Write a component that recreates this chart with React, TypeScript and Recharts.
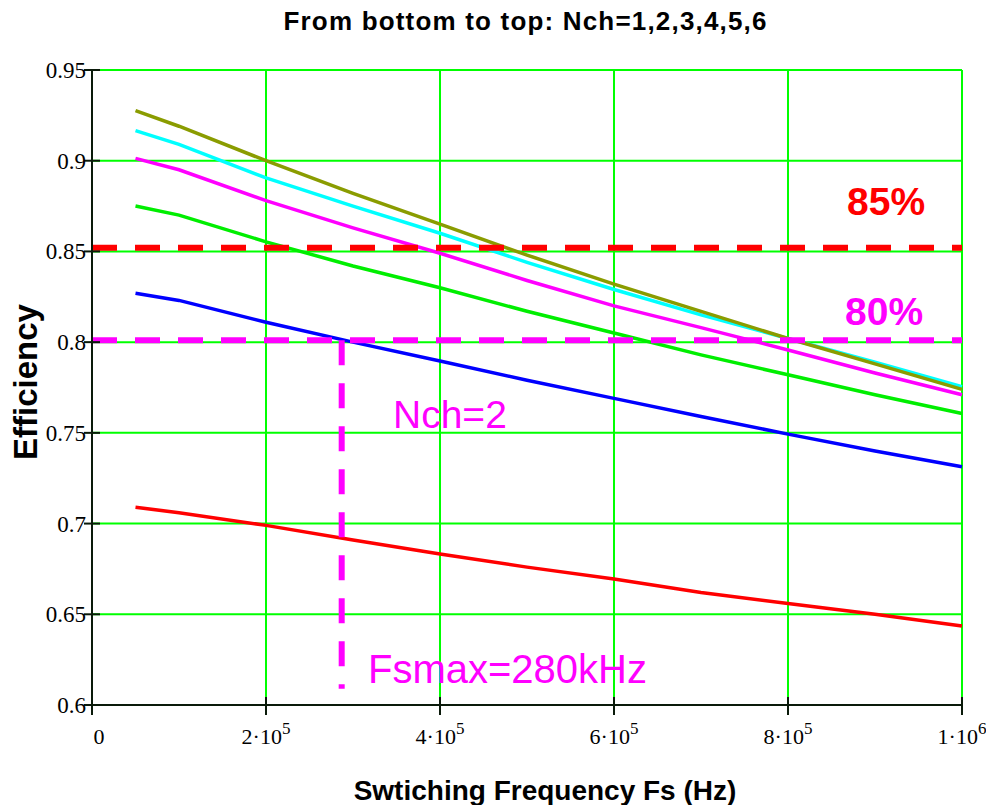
import React from "react";
import { LineChart, Line, XAxis, YAxis, CartesianGrid, ReferenceLine } from "recharts";

const freqs = [50000, 100000, 200000, 300000, 400000, 500000, 600000, 700000, 800000, 900000, 1000000];
const nch1 = [0.709, 0.706, 0.699, 0.691, 0.6832, 0.676, 0.6694, 0.662, 0.656, 0.65, 0.6435];
const nch2 = [0.827, 0.823, 0.811, 0.8, 0.7896, 0.779, 0.769, 0.759, 0.7493, 0.74, 0.7313];
const nch3 = [0.875, 0.87, 0.8553, 0.842, 0.83, 0.817, 0.805, 0.793, 0.782, 0.771, 0.7607];
const nch4 = [0.9013, 0.895, 0.878, 0.863, 0.849, 0.834, 0.82, 0.808, 0.7957, 0.783, 0.771];
const nch5 = [0.9166, 0.909, 0.8905, 0.875, 0.86, 0.844, 0.829, 0.815, 0.802, 0.789, 0.7754];
const nch6 = [0.9276, 0.919, 0.9, 0.882, 0.865, 0.848, 0.832, 0.817, 0.802, 0.788, 0.774];

const xTicks = [0, 200000, 400000, 600000, 800000, 1000000];
const xTickMain = ["0", "2·10", "4·10", "6·10", "8·10", "1·10"];
const xTickExp = ["", "5", "5", "5", "5", "6"];
const yTicks = [0.6, 0.65, 0.7, 0.75, 0.8, 0.85, 0.9, 0.95];
const yTickLabels = ["0.6", "0.65", "0.7", "0.75", "0.8", "0.85", "0.9", "0.95"];

const level85 = 0.852;
const level80 = 0.801;
const fsMax = 287000;
const fsMaxBottom = 0.609;

const series = [
  { key: "n1", values: nch1, color: "#ff0000" },
  { key: "n2", values: nch2, color: "#0000ff" },
  { key: "n3", values: nch3, color: "#00ee00" },
  { key: "n4", values: nch4, color: "#ff00ff" },
  { key: "n5", values: nch5, color: "#00ffff" },
  { key: "n6", values: nch6, color: "#8a9c00" },
];

const table = freqs.map((f, i) => {
  const row: any = { f };
  series.forEach((s) => (row[s.key] = s.values[i]));
  return row;
});

const AXIS = "#0a1a0a";

const YTick = (props: any) => {
  const { x, y, payload } = props;
  const idx = yTicks.indexOf(payload.value);
  return (
    <g>
      <line x1={x - 8} x2={x + 8} y1={y} y2={y} stroke={AXIS} strokeWidth={2} />
      <text x={x - 6} y={y + 8} textAnchor="end" fontFamily="'Liberation Serif', serif" fontSize={23} fill="#000">
        {idx >= 0 ? yTickLabels[idx] : payload.value}
      </text>
    </g>
  );
};

const XTick = (props: any) => {
  const { x, y, payload } = props;
  const idx = xTicks.indexOf(payload.value);
  const main = idx >= 0 ? xTickMain[idx] : String(payload.value);
  const exp = idx >= 0 ? xTickExp[idx] : "";
  return (
    <g>
      <line x1={x} x2={x} y1={y - 8} y2={y + 10} stroke={AXIS} strokeWidth={2} />
      {exp === "" ? (
        <text x={x + 7} y={y + 39} textAnchor="middle" fontFamily="'Liberation Serif', serif" fontSize={22} fill="#000">
          {main}
        </text>
      ) : (
        <text x={x} y={y + 39} textAnchor="middle" fontFamily="'Liberation Serif', serif" fontSize={22} fill="#000">
          <tspan>{main}</tspan>
          <tspan dy={-10} fontSize={17}>{exp}</tspan>
        </text>
      )}
    </g>
  );
};

export default function App() {
  return (
    <div style={{ position: "absolute", left: 0, top: 0, width: 986, height: 805, background: "#fff" }}>
      <LineChart
        width={986}
        height={805}
        data={table}
        margin={{ top: 70, right: 24, bottom: 60, left: 32 }}
      >
        <CartesianGrid stroke="#00ff00" strokeWidth={2} />
        <XAxis
          dataKey="f"
          type="number"
          domain={[0, 1000000]}
          ticks={xTicks}
          height={40}
          tickSize={0}
          tickMargin={0}
          tickLine={false}
          axisLine={{ stroke: AXIS, strokeWidth: 2 }}
          tick={<XTick />}
          interval={0}
        />
        <YAxis
          type="number"
          domain={[0.6, 0.95]}
          ticks={yTicks}
          width={60}
          tickSize={0}
          tickMargin={0}
          tickLine={false}
          axisLine={{ stroke: AXIS, strokeWidth: 2 }}
          tick={<YTick />}
          interval={0}
          allowDataOverflow
        />
        {series.map((s) => (
          <Line
            key={s.key}
            dataKey={s.key}
            type="linear"
            stroke={s.color}
            strokeWidth={3.5}
            dot={false}
            activeDot={false}
            isAnimationActive={false}
          />
        ))}
        <ReferenceLine y={level85} stroke="#ff0000" strokeWidth={6} strokeDasharray="25 18" />
        <ReferenceLine y={level80} stroke="#ff00ff" strokeWidth={6} strokeDasharray="25 18" />
        <ReferenceLine
          segment={[
            { x: fsMax, y: level80 },
            { x: fsMax, y: fsMaxBottom },
          ]}
          stroke="#ff00ff"
          strokeWidth={6}
          strokeDasharray="25 18"
        />
      </LineChart>
      <svg
        width={986}
        height={805}
        style={{ position: "absolute", left: 0, top: 0, pointerEvents: "none" }}
      >
        <text x={525} y={30} textAnchor="middle" fontFamily="'Liberation Sans', Arial, sans-serif" fontWeight="bold" fontSize={26} textLength={483} lengthAdjust="spacing" fill="#000">
          From bottom to top: Nch=1,2,3,4,5,6
        </text>
        <text x={545} y={800} textAnchor="middle" fontFamily="'Liberation Sans', Arial, sans-serif" fontWeight="bold" fontSize={28} fill="#000">
          Swtiching Frequency Fs (Hz)
        </text>
        <text x={37} y={382} textAnchor="middle" transform="rotate(-90, 37, 382)" fontFamily="'Liberation Sans', Arial, sans-serif" fontWeight="bold" fontSize={33} fill="#000">
          Efficiency
        </text>
        <text x={847} y={215} fontFamily="'Liberation Sans', Arial, sans-serif" fontWeight="bold" fontSize={39} fill="#ff0000">
          85%
        </text>
        <text x={845} y={325} fontFamily="'Liberation Sans', Arial, sans-serif" fontWeight="bold" fontSize={39} fill="#ff00ff">
          80%
        </text>
        <text x={393} y={428} fontFamily="'Liberation Sans', Arial, sans-serif" fontSize={39} fill="#ff00ff">
          Nch=2
        </text>
        <text x={368} y={683} fontFamily="'Liberation Sans', Arial, sans-serif" fontSize={40} fill="#ff00ff">
          Fsmax=280kHz
        </text>
      </svg>
    </div>
  );
}
